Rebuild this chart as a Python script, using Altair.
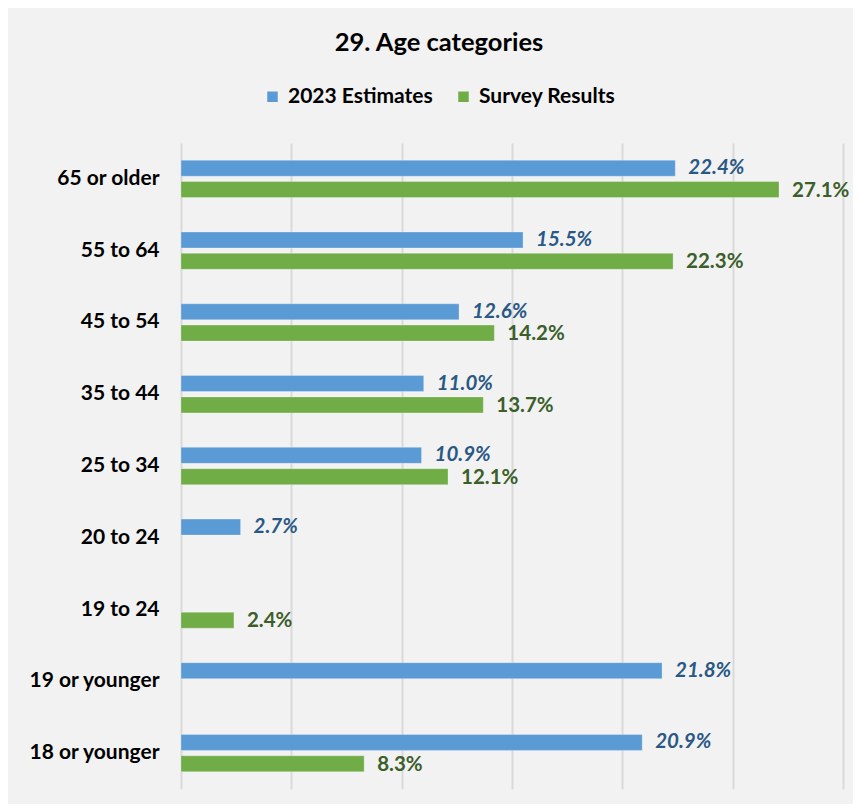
import altair as alt
import pandas as pd

categories = ["65 or older", "55 to 64", "45 to 54", "35 to 44", "25 to 34",
              "20 to 24", "19 to 24", "19 or younger", "18 or younger"]
series_names = ["2023 Estimates", "Survey Results"]
estimates = [22.4, 15.5, 12.6, 11.0, 10.9, 2.7, None, 21.8, 20.9]
survey = [27.1, 22.3, 14.2, 13.7, 12.1, None, 2.4, None, 8.3]
colors = ["#5b9bd5", "#70ad47"]
label_colors = ["#2a5885", "#3b5e2b"]

rows = []
for cat, e, s in zip(categories, estimates, survey):
    if e is not None:
        rows.append({"cat": cat, "series": series_names[0], "value": e, "label": f"{e:.1f}%"})
    if s is not None:
        rows.append({"cat": cat, "series": series_names[1], "value": s, "label": f"{s:.1f}%"})
df = pd.DataFrame(rows)

FONT = "Lato"

y_enc = alt.Y("cat:N", sort=categories, title=None,
              scale=alt.Scale(domain=categories, paddingInner=0.48, paddingOuter=0.24),
              axis=alt.Axis(labelFont=FONT, labelFontSize=21, labelFontWeight="bold",
                            labelColor="#000000", labelPadding=22, ticks=False,
                            domain=False, grid=False))
yoff = alt.YOffset("series:N", scale=alt.Scale(domain=series_names, paddingInner=0.25, paddingOuter=0))
x_enc = alt.X("value:Q", title=None,
              scale=alt.Scale(domain=[0, 30], nice=False),
              axis=alt.Axis(values=[0, 5, 10, 15, 20, 25, 30], labels=False, ticks=False,
                            domain=False, grid=True, gridColor="#d9d9d9", gridWidth=2))

bars = alt.Chart(df).mark_bar(stroke="#ffffff", strokeOpacity=0.35, strokeWidth=0.8).encode(
    x=x_enc, y=y_enc, yOffset=yoff,
    color=alt.Color("series:N", title=None,
                    scale=alt.Scale(domain=series_names, range=colors),
                    legend=alt.Legend(orient="none", legendX=81, legendY=-57, direction="horizontal",
                                      labelFont=FONT, labelFontSize=21, labelFontWeight="bold",
                                      labelColor="#000000", symbolType="square", symbolSize=110,
                                      symbolStrokeWidth=0, columnPadding=20, labelOffset=5,
                                      padding=0)),
)

text_est = alt.Chart(df).transform_filter(alt.datum.series == series_names[0]).mark_text(
    align="left", baseline="middle", dx=13, font=FONT, fontSize=20.5, fontWeight="bold",
    fontStyle="italic", color=label_colors[0]
).encode(x="value:Q", y=alt.Y("cat:N", sort=categories), yOffset=yoff, text="label:N")

text_sur = alt.Chart(df).transform_filter(alt.datum.series == series_names[1]).mark_text(
    align="left", baseline="middle", dx=13, dy=1, font=FONT, fontSize=20.5, fontWeight="bold",
    color=label_colors[1]
).encode(x="value:Q", y=alt.Y("cat:N", sort=categories), yOffset=yoff, text="label:N")

chart = alt.layer(bars, text_est, text_sur).properties(
    width=662, height=646,
    title=alt.TitleParams("29. Age categories", font=FONT, fontSize=25.5, fontWeight="bold",
                          color="#000000", anchor="middle", frame="group", dx=-73, offset=30),
    autosize=alt.AutoSizeParams(type="none"),
    padding={"left": 173, "top": 135, "right": 10, "bottom": 15},
).configure(background="#f2f2f2").configure_view(stroke=None)

chart.save("out.html", embed_options={"renderer": "svg", "actions": False})
